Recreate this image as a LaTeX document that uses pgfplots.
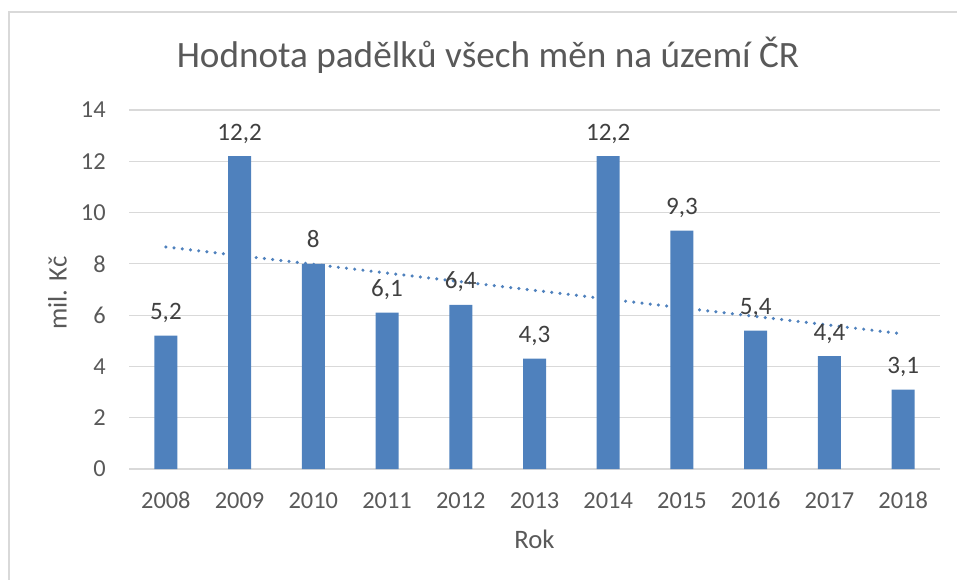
\documentclass[border=0pt]{standalone}
\usepackage{fontspec}
\setmainfont{Carlito}
\usepackage{pgfplots}
\pgfplotsset{compat=1.18}
\definecolor{barblue}{RGB}{79,129,189}
\definecolor{gridgray}{RGB}{217,217,217}
\definecolor{txtgray}{RGB}{89,89,89}
\definecolor{lblgray}{RGB}{64,64,64}
\begin{document}
\begin{tikzpicture}[x=0.75pt,y=0.75pt]
\useasboundingbox (0,0) rectangle (957,579);
\draw[gridgray, line width=1.1pt] (9,-10) -- (9,567) -- (980,567);
\node[txtgray, anchor=base, inner sep=0pt, font=\fontsize{27.9}{31}\selectfont]
  at (488,511) {Hodnota padělků všech měn na území ČR};
\begin{axis}[
  at={(96.75pt,82.5pt)}, anchor=south west,
  scale only axis, width=608.25pt, height=269.25pt,
  xmin=-0.5, xmax=10.5, ymin=0, ymax=14,
  xtick={0,...,10},
  xticklabels={2008,2009,2010,2011,2012,2013,2014,2015,2016,2017,2018},
  ytick={0,2,...,14},
  ymajorgrids, grid style={gridgray, line width=0.8pt},
  axis line style={draw=none}, major tick style={draw=none},
  tick label style={font=\fontsize{18.3}{21}\selectfont, text=txtgray},
  yticklabel style={anchor=east, inner sep=0pt, xshift=-17.25pt},
  xticklabel style={anchor=base, inner sep=0pt, yshift=-29.25pt},
  xlabel={Rok}, ylabel={mil. Kč},
  xlabel style={at={(axis description cs:0.5,-0.2201)}, anchor=base,
    inner sep=0pt, font=\fontsize{20}{23}\selectfont, text=txtgray},
  ylabel style={at={(axis description cs:-0.0768,0.49)}, anchor=base,
    inner sep=0pt, font=\fontsize{20}{23}\selectfont, text=txtgray},
  /pgf/number format/.cd, use comma, assume math mode=true,
]
\addplot[ybar, bar width=17.25pt, fill=barblue, draw=none,
  nodes near coords,
  every node near coord/.append style={anchor=base, yshift=12pt,
    font=\fontsize{18.8}{22}\selectfont, text=lblgray}]
  coordinates {
  (0,5.2) (1,12.2) (2,8) (3,6.1) (4,6.4) (5,4.3)
  (6,12.2) (7,9.3) (8,5.4) (9,4.4) (10,3.1) };
% linear trend line (least-squares fit of the bars)
\addplot[barblue, line width=2.6pt, line cap=round,
  dash pattern=on 0pt off 6.2pt]
  coordinates { (0,8.66) (10,5.27) };
\end{axis}
\end{tikzpicture}
\end{document}
